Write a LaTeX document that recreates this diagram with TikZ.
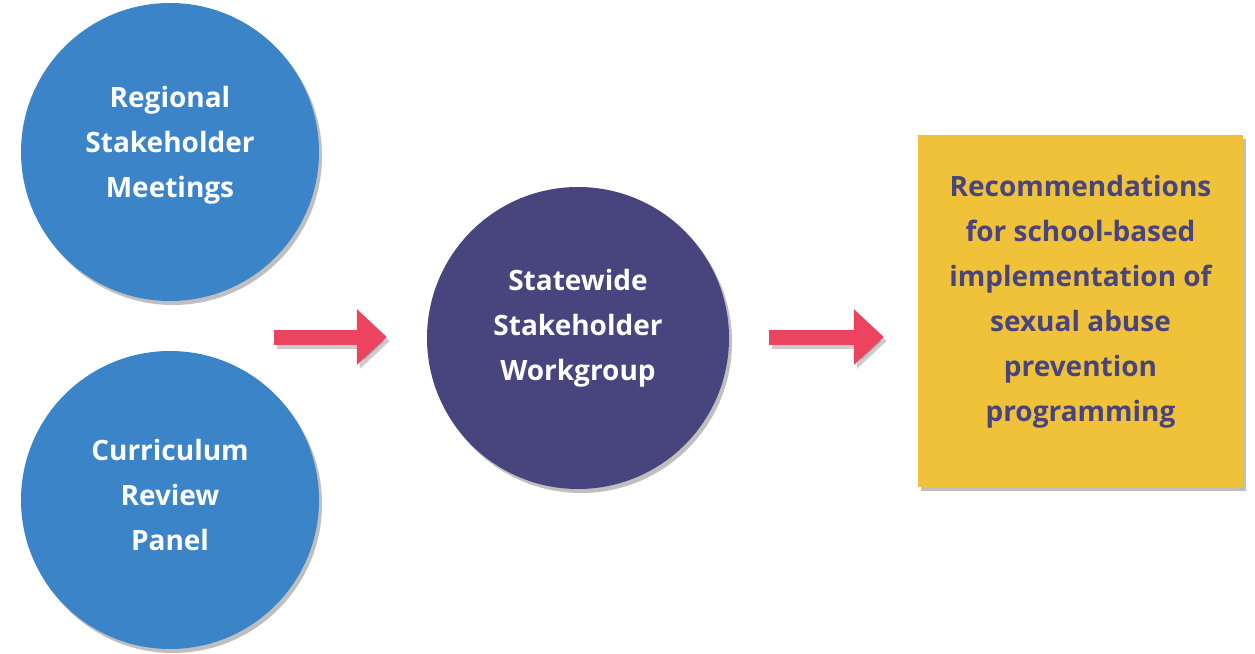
\documentclass[tikz,border=0pt]{standalone}
\usepackage{fontspec}
\setmainfont{Open Sans}
\usetikzlibrary{shadows,calc,arrows.meta}
\definecolor{cblue}{RGB}{58,132,199}
\definecolor{cpurple}{RGB}{72,68,126}
\definecolor{cyellow}{RGB}{240,194,58}
\definecolor{cred}{RGB}{236,68,94}
\tikzset{
  softshadow/.style={drop shadow={shadow xshift=3pt,shadow yshift=-4pt,opacity=0.25,fill=black}},
  bluecirc/.style={circle,fill=cblue,minimum size=298pt,inner sep=0pt,softshadow},
  purplecirc/.style={circle,fill=cpurple,minimum size=302pt,inner sep=0pt,softshadow},
  yellowbox/.style={rectangle,fill=cyellow,minimum width=325pt,minimum height=352pt,inner sep=0pt,softshadow},
  lbl/.style={align=center,font=\fontsize{28}{45}\selectfont\bfseries,text=white},
  boxlbl/.style={align=center,font=\fontsize{28}{45}\selectfont\bfseries,text=cpurple},
  fatarrow/.style={draw=cred,line width=15pt,-{Triangle[length=30pt,width=54pt]}},
  fatshadow/.style={draw=black,opacity=0.2,line width=15pt,-{Triangle[length=30pt,width=54pt]}}
}
\begin{document}
\begin{tikzpicture}[x=1pt,y=-1pt]
\useasboundingbox (0,0) rectangle (1255,653);
\node[bluecirc] (c1) at (170,152) {};
\node[bluecirc] (c2) at (170,500) {};
\node[purplecirc] (c3) at (578,338) {};
\node[yellowbox] (box) at (1080.5,311) {};
\node[lbl] (t1) at (170,145) {Regional\\Stakeholder\\Meetings};
\node[lbl] (t2) at (170,495) {Curriculum\\Review\\Panel};
\node[lbl] (t3) at (578,328) {Statewide\\Stakeholder\\Workgroup};
\node[boxlbl] (t4) at (1080.5,302) {Recommendations\\for school-based\\implementation of\\sexual abuse\\prevention\\programming};
\coordinate (a1s) at ($(c1.east)!0.5!(c2.east)+(-45,0)$);
\coordinate (a1e) at ($(c3.west)+(-40,0)$);
\coordinate (a2s) at ($(c3.east)+(40,0)$);
\coordinate (a2e) at ($(box.west)+(-34,0)$);
\coordinate (a1y) at (0,337);
\draw[fatshadow] ($(a1s|-a1y)+(3,4)$) -- ($(a1e|-a1y)+(3,4)$);
\draw[fatshadow] ($(a2s|-a1y)+(3,4)$) -- ($(a2e|-a1y)+(3,4)$);
\draw[fatarrow] (a1s|-a1y) -- (a1e|-a1y);
\draw[fatarrow] (a2s|-a1y) -- (a2e|-a1y);
\end{tikzpicture}
\end{document}
